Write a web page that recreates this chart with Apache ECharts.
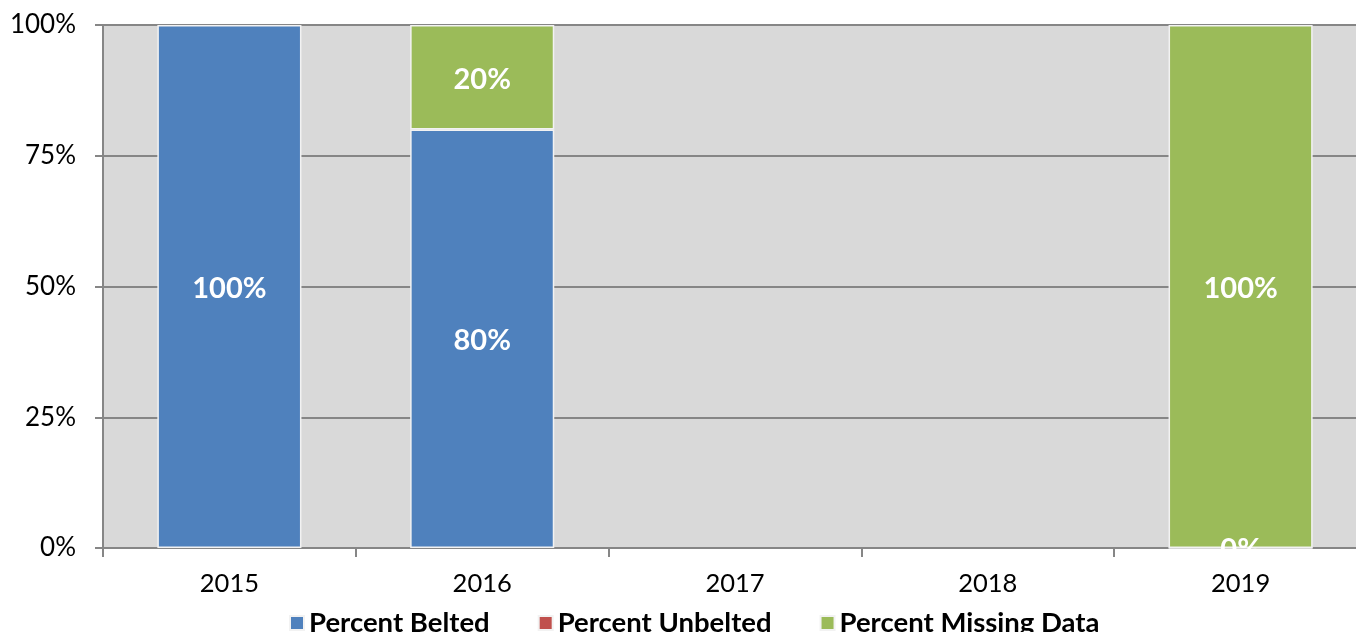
<!DOCTYPE html>
<html>
<head>
<meta charset="utf-8">
<script src="https://cdn.jsdelivr.net/npm/echarts@6/dist/echarts.min.js"></script>
<style>
  html, body { margin: 0; padding: 0; background: #fff; }
  #main { width: 1356px; height: 632px; }
</style>
</head>
<body>
<div id="main"></div>
<script>
// belt use by year, share of occupants
var years = ['2015', '2016', '2017', '2018', '2019'];
var belted = [100, 80, null, null, 0];
var unbelted = [null, null, null, null, null];
var missing = [null, 20, null, null, 100];
var yTicks = [0, 25, 50, 75, 100];

var myChart = echarts.init(document.getElementById('main'));

var labelStyle = {
    show: true,
    position: 'inside',
    offset: [0, 2],
    color: '#fff',
    fontFamily: 'Lato',
    fontWeight: 'bold',
    fontSize: 29,
    formatter: function (p) { return p.value + '%'; }
};

function mkSeries(name, data, color) {
    return {
        name: name,
        type: 'bar',
        stack: 'total',
        barWidth: '57%',
        data: data,
        itemStyle: { color: color, borderColor: '#f2f2f2', borderWidth: 1.5 },
        label: labelStyle
    };
}

var option = {
    animation: false,
    textStyle: { fontFamily: 'Lato' },
    grid: { left: 103, top: 25, width: 1264, height: 523, outerBoundsMode: 'none' },
    legend: {
        top: 604,
        left: 284,
        itemWidth: 14,
        itemHeight: 14,
        itemGap: 48,
        icon: 'rect',
        textStyle: { fontFamily: 'Lato', fontWeight: 'bold', fontSize: 27.5, color: '#000' },
        data: ['Percent Belted', 'Percent Unbelted', 'Percent Missing Data']
    },
    xAxis: {
        type: 'category',
        data: years,
        axisLine: { lineStyle: { color: '#868686', width: 2 } },
        axisTick: { show: true, length: 9, lineStyle: { color: '#868686', width: 2 } },
        axisLabel: { color: '#000', fontSize: 25.5, margin: 23 }
    },
    yAxis: {
        type: 'value',
        min: 0,
        max: 100,
        interval: 25,
        axisLine: { show: true, lineStyle: { color: '#868686', width: 2 } },
        axisTick: { show: true, length: 8, lineStyle: { color: '#868686', width: 2 } },
        axisLabel: { color: '#000', fontSize: 26, margin: 27, formatter: function (v) { return yTicks.indexOf(v) >= 0 ? v + '%' : ''; } },
        splitLine: { lineStyle: { color: '#868686', width: 2 } },
        splitArea: { show: true, areaStyle: { color: ['#d9d9d9', '#d9d9d9'] } }
    },
    series: [
        mkSeries('Percent Belted', belted, '#4f81bd'),
        mkSeries('Percent Unbelted', unbelted, '#c0504d'),
        mkSeries('Percent Missing Data', missing, '#9bbb59')
    ]
};

myChart.setOption(option);
</script>
</body>
</html>
